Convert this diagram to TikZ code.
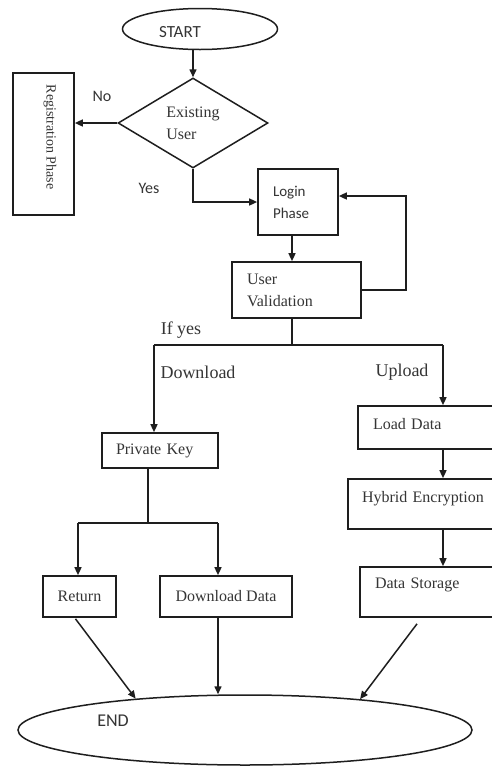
\documentclass[tikz,border=0pt]{standalone}
\usepackage{fontspec}
\setmainfont{Liberation Serif}
\newfontfamily\calib{Carlito}
\usetikzlibrary{arrows.meta,shapes.geometric,calc}
\definecolor{linec}{HTML}{1E1E1E}
\definecolor{txtc}{HTML}{353535}
\begin{document}
\begin{tikzpicture}[x=1pt,y=-1pt,
  ln/.style={line width=1.5pt, draw=linec},
  arr/.style={ln, -{Triangle[length=8pt,width=7pt]}},
  box/.style={draw=linec, line width=1.7pt, rectangle, inner ysep=0pt, text=txtc, align=left,
              font=\fontsize{16}{22}\selectfont},
  cbox/.style={box, align=center, inner xsep=0pt},
  lbl/.style={text=txtc, inner sep=0pt},
  oval/.style={draw=linec, line width=1.5pt, ellipse, inner sep=0pt}
]
\useasboundingbox (0,0) rectangle (492,772);
\fill[white] (0,0) rectangle (492,772);
\clip (0,0) rectangle (492,772);

% nodes
\node[oval, minimum width=155pt, minimum height=41pt,
  label={[lbl, font=\calib\fontsize{17}{20}\selectfont, xshift=-20pt, yshift=-3pt]center:START}] (start) at (200,29) {};
\node[diamond, draw=linec, line width=1.5pt, minimum width=150pt, minimum height=90pt, aspect=1.67,
  inner sep=0pt, align=left, text=txtc, font=\fontsize{16}{22}\selectfont] (dia) at (193,123) {Existing\\User};
\node[box, minimum width=61pt, minimum height=142pt, inner xsep=0pt] (reg) at (43.5,144) {};
\node[lbl, rotate=-90, font=\fontsize{14}{16}\selectfont] (regt) at (50,137) {Registration Phase};
\node[box, minimum height=66pt, text width=50pt, inner xsep=15pt,
  font=\calib\fontsize{15}{22}\selectfont] (login) at (298,202) {Login\\Phase};
\node[box, minimum height=56pt, text width=99pt, inner xsep=15pt] (uv) at (296.5,290) {User\\Validation};
\node[box, minimum height=35pt, text width=88pt, inner xsep=14pt] (pk) at (160,450.5) {Private Key};
\node[box, minimum height=43pt, text width=140pt, inner xsep=15pt] (ld) at (443,427.5) {\raisebox{3pt}[\height][\depth]{Load Data}};
\node[box, minimum height=50pt, text width=162pt, inner xsep=14pt] (hy) at (443,504) {\raisebox{5pt}[\height][\depth]{Hybrid Encryption}};
\node[box, minimum height=50pt, text width=136pt, inner xsep=15pt] (ds) at (443,592) {\raisebox{7pt}[\height][\depth]{Data Storage}};
\node[cbox, minimum height=41pt, minimum width=73pt] (ret) at (79.5,596.5) {Return};
\node[cbox, minimum height=41pt, minimum width=132pt] (dd) at (226,596.5) {Download Data};
\node[oval, minimum width=454pt, minimum height=70pt,
  label={[lbl, font=\calib\fontsize{18}{20}\selectfont, xshift=-132pt, yshift=9pt]center:END}] (end) at (245,730) {};

% labels
\node[lbl, font=\calib\fontsize{16}{20}\selectfont] (no) at (102,96) {No};
\node[lbl, font=\calib\fontsize{16}{20}\selectfont] (yes) at (149,188) {Yes};
\node[lbl, font=\fontsize{18}{20}\selectfont] (ify) at (181,330) {If yes};
\node[lbl, font=\fontsize{18}{20}\selectfont] (dn) at (198,372) {Download};
\node[lbl, font=\fontsize{18}{20}\selectfont] (up) at (402,372) {Upload};

% coordinates
\coordinate (sp) at (292,345);
\coordinate (dl) at (154,345);
\coordinate (ul) at (443,345);
\coordinate (lp) at (406,196);
\coordinate (pb) at (148,523);
\coordinate (bL) at (78,523);
\coordinate (bR) at (218,523);

% connectors
\draw[arr] (start.south -| dia.north) -- (dia.north);
\draw[arr] (dia.west) -- (dia.west -| reg.east);
\draw[arr] (dia.south) |- (login.west);
\draw[arr] (login.south -| sp) -- (uv.north -| sp);
\draw[arr] (uv.east) -| (lp) -- (lp -| login.east);
\draw[ln] (uv.south -| sp) -- (sp);
\draw[ln] (dl) -- (ul);
\draw[arr] (dl) -- (dl |- pk.north);
\draw[arr] (ul) -- (ld.north);
\draw[arr] (ld.south) -- (hy.north);
\draw[arr] (hy.south) -- (ds.north);
\draw[ln] (pk.south -| pb) -- (pb);
\draw[ln] (bL) -- (bR);
\draw[arr] (bL) -- (bL |- ret.north);
\draw[arr] (bR) -- (bR |- dd.north);
\draw[arr] ($(ret.south)+(-4,1)$) -- (end.164);
\draw[arr] (dd.south -| bR) -- (bR |- end.north);
\draw[arr] ($(ds.south)+(-26,6)$) -- (end.15);
\end{tikzpicture}
\end{document}
